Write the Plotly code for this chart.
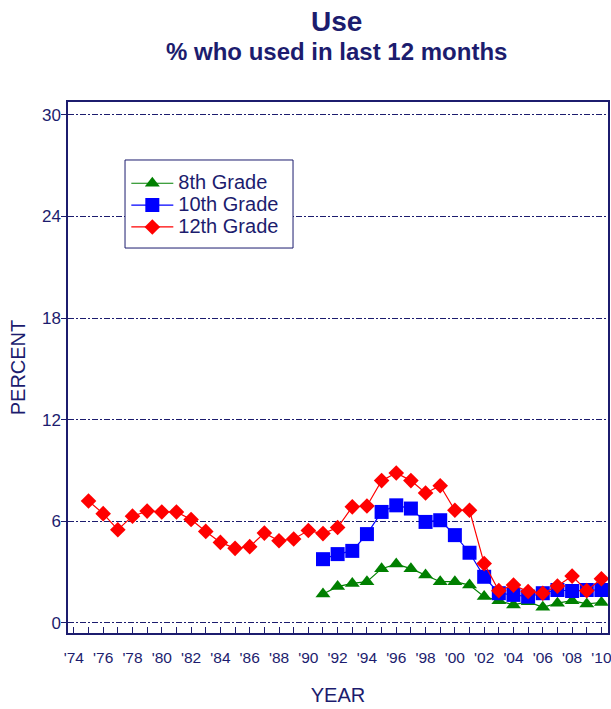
import plotly.graph_objects as go

years_12 = list(range(1975, 2011))
grade12 = [7.2, 6.45, 5.5, 6.3, 6.6, 6.55, 6.55, 6.1, 5.4, 4.75, 4.4, 4.5, 5.3, 4.85, 4.95,
           5.45, 5.27, 5.63, 6.85, 6.9, 8.4, 8.85, 8.4, 7.67, 8.1, 6.65, 6.65, 3.5, 1.9, 2.23,
           1.85, 1.75, 2.17, 2.76, 1.9, 2.6]
years_8_10 = list(range(1991, 2011))
grade10 = [3.76, 4.06, 4.25, 5.24, 6.55, 6.94, 6.75, 5.96, 6.06, 5.18, 4.14, 2.72, 1.75, 1.65,
           1.55, 1.75, 1.94, 1.88, 1.94, 1.94]
grade8 = [1.7, 2.14, 2.33, 2.43, 3.2, 3.47, 3.2, 2.82, 2.43, 2.43, 2.23, 1.55, 1.31, 1.06,
          1.25, 0.92, 1.16, 1.31, 1.12, 1.2]

tick_years = list(range(1974, 2011))
tick_text = [("'" + str(y)[2:]) if y % 2 == 0 else "" for y in tick_years]
y_ticks = [0, 6, 12, 18, 24, 30]

title_text = "Use"
subtitle_text = "% who used in last 12 months"
series_names = ["8th Grade", "10th Grade", "12th Grade"]

NAVY = "#1c1c6e"
FONT = "Liberation Sans, Arial, sans-serif"


def legend_label(name):
    return "<span style='font-size:20px'>" + name + "</span>"


fig = go.Figure()
fig.add_trace(go.Scatter(x=years_8_10, y=grade8, name=legend_label(series_names[0]), mode="lines+markers",
                         line=dict(color="#008000", width=1.2),
                         marker=dict(symbol="triangle-up", size=13, color="#008000")))
fig.add_trace(go.Scatter(x=years_8_10, y=grade10, name=legend_label(series_names[1]), mode="lines+markers",
                         line=dict(color="#0000ff", width=1.2),
                         marker=dict(symbol="square", size=14, color="#0000ff")))
fig.add_trace(go.Scatter(x=years_12, y=grade12, name=legend_label(series_names[2]), mode="lines+markers",
                         line=dict(color="#ff0000", width=1.2),
                         marker=dict(symbol="diamond", size=12, color="#ff0000")))

fig.add_annotation(text="<b>" + title_text + "</b>", xref="paper", yref="paper",
                   x=0.498, y=1.1507, xanchor="center", yanchor="middle", showarrow=False,
                   font=dict(size=28, color=NAVY, family=FONT))
fig.add_annotation(text="<b>" + subtitle_text + "</b>", xref="paper", yref="paper",
                   x=0.498, y=1.0942, xanchor="center", yanchor="middle", showarrow=False,
                   font=dict(size=24, color=NAVY, family=FONT))

# legend frame
fig.add_shape(type="rect", xref="paper", yref="paper",
              x0=0.1056, x1=0.4167, y0=0.725, y1=0.8908,
              line=dict(color=NAVY, width=1), fillcolor="white", layer="above")

fig.update_layout(
    width=611, height=709,
    margin=dict(l=68, r=3, t=102, b=76),
    paper_bgcolor="white", plot_bgcolor="white",
    font=dict(family=FONT, color=NAVY, size=16),
    showlegend=True,
    legend=dict(x=0.108, y=0.877, xanchor="left", yanchor="top",
                borderwidth=0, bgcolor="rgba(0,0,0,0)",
                font=dict(size=14.5, color=NAVY, family=FONT),
                tracegroupgap=0, itemwidth=42),
    xaxis=dict(range=[1973.6, 2010.45], tickvals=tick_years, ticktext=tick_text,
               ticks="inside", ticklen=6, tickcolor=NAVY, tickwidth=1.3,
               showline=True, linecolor=NAVY, linewidth=1.5, mirror=True,
               showgrid=False, zeroline=False, tickangle=0,
               ticklabelstandoff=10, automargin=False, ticklabeloverflow="allow",
               tickfont=dict(size=15.5, color=NAVY),
               title=dict(text="YEAR", font=dict(size=20, color=NAVY), standoff=23)),
    yaxis=dict(range=[-0.6, 30.76], tickvals=y_ticks,
               ticks="outside", ticklen=5, tickcolor=NAVY,
               showline=True, linecolor=NAVY, linewidth=1.5, mirror=True,
               showgrid=True, gridcolor=NAVY, gridwidth=1, griddash="6px,2px,2px,2px",
               zeroline=False, automargin=False, ticklabelstandoff=-3,
               tickfont=dict(size=17, color=NAVY),
               title=dict(text="PERCENT", font=dict(size=20, color=NAVY), standoff=11)),
)

fig.write_html("out.html", config={"displayModeBar": False},
               post_script="document.body.style.margin='0px';")
